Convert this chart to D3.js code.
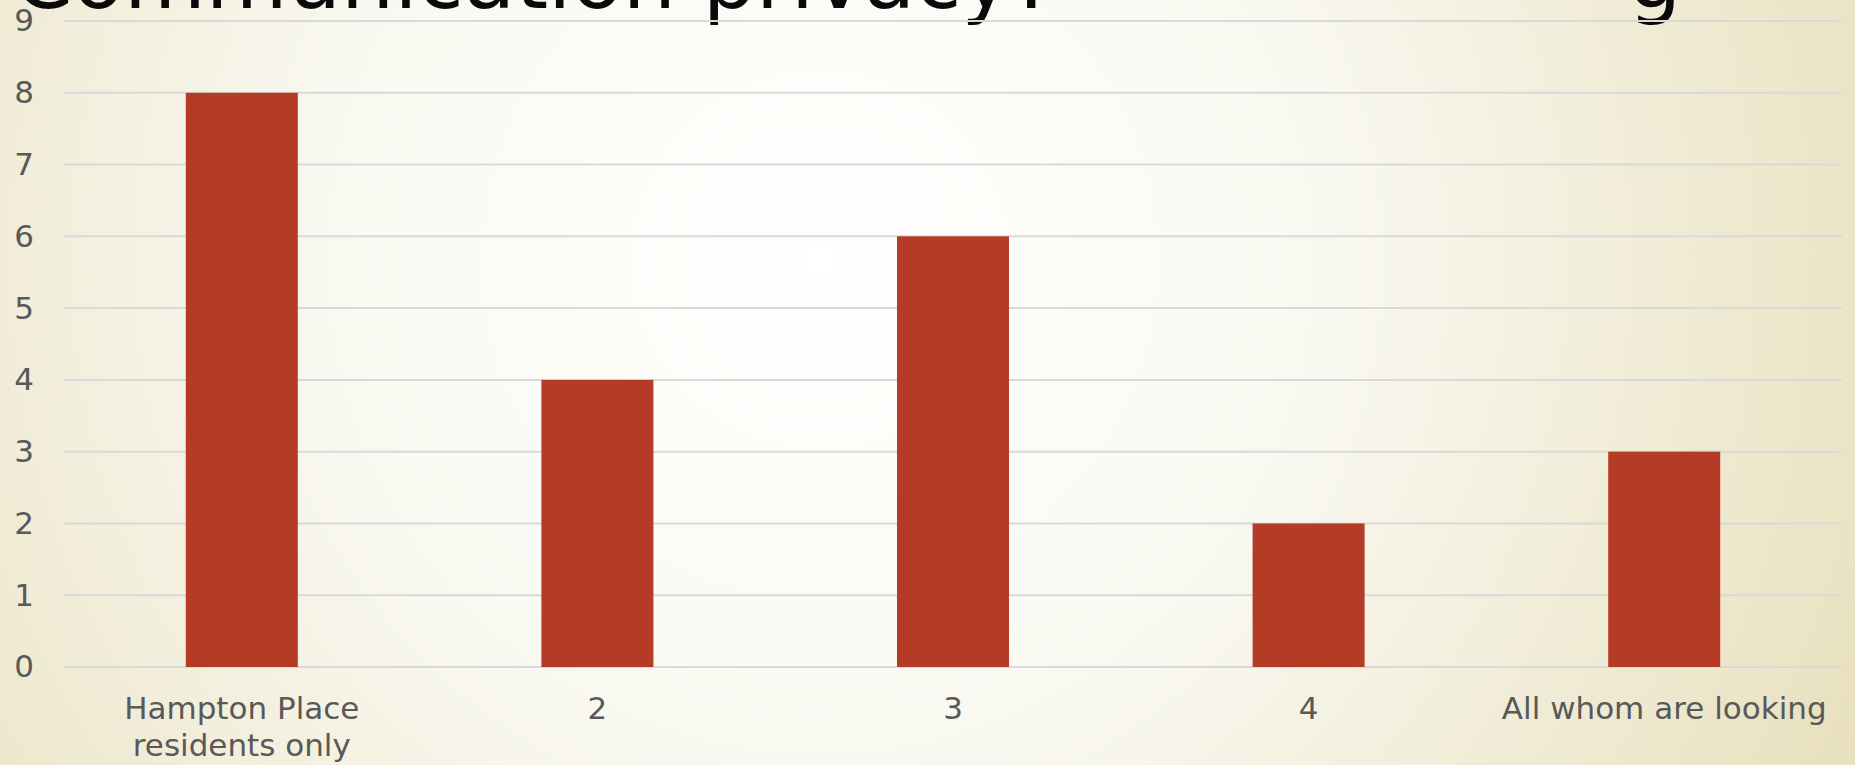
<!DOCTYPE html>
<html>
<head>
<meta charset="utf-8">
<script src="https://cdnjs.cloudflare.com/ajax/libs/d3/7.8.5/d3.min.js"></script>
<style>
  html, body { margin: 0; padding: 0; overflow: hidden; }
</style>
</head>
<body>
<div id="chart"></div>
<script>
const categories = ["Hampton Place\nresidents only", "2", "3", "4", "All whom are looking"];
const values = [8, 4, 6, 2, 3];
const yTicks = [0, 1, 2, 3, 4, 5, 6, 7, 8, 9];
const titleText = "Communication privacy?";

const W = 1855, H = 765;
const plotLeft = 64, plotRight = 1842, plotTop = 21, plotBottom = 667;

const svg = d3.select("#chart")
  .append("svg")
  .attr("width", W)
  .attr("height", H);

// background
const defs = svg.append("defs");
const grad = defs.append("radialGradient")
  .attr("id", "bg")
  .attr("gradientUnits", "userSpaceOnUse")
  .attr("cx", 820).attr("cy", 260).attr("r", 1150);
grad.append("stop").attr("offset", 0).attr("stop-color", "#ffffff");
grad.append("stop").attr("offset", 0.45).attr("stop-color", "#f9f8f0");
grad.append("stop").attr("offset", 1).attr("stop-color", "#e8e0bd");

svg.append("rect").attr("width", W).attr("height", H).attr("fill", "url(#bg)");

// title, cut by the top edge
svg.append("text")
  .attr("x", 14).attr("y", 8)
  .style("font-family", "DejaVu Sans")
  .style("font-size", "84px")
  .attr("fill", "#0a0a0a")
  .text(titleText);
svg.append("text")
  .attr("x", 1628).attr("y", 8)
  .style("font-family", "DejaVu Sans")
  .style("font-size", "84px")
  .attr("fill", "#0a0a0a")
  .text("g");

const x = d3.scaleBand().domain(categories).range([plotLeft, plotRight]).paddingInner(0.685).paddingOuter(0.3425);
const y = d3.scaleLinear().domain([0, 9]).range([plotBottom, plotTop]);

// gridlines
svg.append("g")
  .selectAll("line")
  .data(yTicks)
  .join("line")
  .attr("x1", plotLeft).attr("x2", plotRight)
  .attr("y1", d => y(d)).attr("y2", d => y(d))
  .attr("stroke", "#d9d9d9")
  .attr("stroke-width", 2);

// y axis labels
const yAxis = svg.append("g")
  .attr("transform", `translate(${plotLeft},0)`)
  .call(d3.axisLeft(y).tickValues(yTicks).tickSize(0).tickPadding(30));
yAxis.select(".domain").remove();
yAxis.selectAll("text")
  .style("font-family", "DejaVu Sans")
  .style("font-size", "31px")
  .attr("fill", "#595959");

// bars
svg.append("g")
  .selectAll("rect")
  .data(values)
  .join("rect")
  .attr("x", (d, i) => x(categories[i]))
  .attr("width", x.bandwidth())
  .attr("y", d => y(d))
  .attr("height", d => y(0) - y(d))
  .attr("fill", "#b53b26");

// x axis labels
const xAxis = svg.append("g")
  .attr("transform", `translate(0,${plotBottom})`)
  .call(d3.axisBottom(x).tickSize(0).tickFormat(""));
xAxis.select(".domain").remove();
xAxis.selectAll(".tick").each(function(d) {
  const lines = d.split("\n");
  const t = d3.select(this).append("text")
    .attr("text-anchor", "middle")
    .style("font-family", "DejaVu Sans")
    .style("font-size", "31px")
    .attr("fill", "#595959");
  lines.forEach((ln, k) => {
    t.append("tspan").attr("x", 0).attr("y", 52 + k * 37).text(ln);
  });
});
</script>
</body>
</html>
